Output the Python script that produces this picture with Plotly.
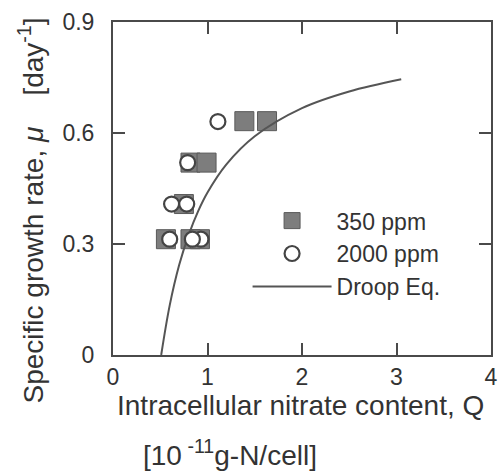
import plotly.graph_objects as go

# 350 ppm (filled squares)
q_350 = [0.56, 0.82, 0.92, 0.75, 0.82, 0.99, 1.39, 1.63]
mu_350 = [0.313, 0.313, 0.313, 0.408, 0.52, 0.52, 0.632, 0.632]

# 2000 ppm (open circles)
q_2000 = [0.60, 0.93, 0.84, 0.62, 0.78, 0.79, 1.11]
mu_2000 = [0.313, 0.313, 0.313, 0.408, 0.408, 0.52, 0.631]

# Droop equation curve
q_droop = [0.51, 0.60, 0.70, 0.80, 0.90, 1.00, 1.20, 1.50, 2.00, 2.50, 3.05]
mu_droop = [0.0, 0.134, 0.243, 0.324, 0.388, 0.439, 0.515, 0.591, 0.667, 0.712, 0.745]

x_ticks = [0, 1, 2, 3, 4]
y_ticks = [0, 0.3, 0.6, 0.9]
y_tick_labels = ["0", "0.3", "0.6", "0.9"]

FONT = "Liberation Sans, Arial, Helvetica, sans-serif"
INK = "#4a4a4a"
TXT = "#333333"

fig = go.Figure()
fig.add_trace(go.Scatter(
    x=q_350, y=mu_350, mode="markers", name="350 ppm", legendrank=1,
    marker=dict(symbol="square", size=19, color="#7d7d7d",
                line=dict(color="#5a5a5a", width=1)),
))
fig.add_trace(go.Scatter(
    x=q_droop, y=mu_droop, mode="lines", name="Droop Eq.", legendrank=3,
    line=dict(color="#555555", width=2, shape="spline"),
))
fig.add_trace(go.Scatter(
    x=q_2000, y=mu_2000, mode="markers", name="2000 ppm", legendrank=2,
    marker=dict(symbol="circle", size=15, color="white",
                line=dict(color="#444444", width=2.2)),
))

axis_common = dict(
    showline=True, linecolor=INK, linewidth=2, mirror="ticks",
    ticks="inside", ticklen=12, tickwidth=2, tickcolor=INK,
    showgrid=False, zeroline=False,
    tickfont=dict(family=FONT, size=23, color=TXT),
)

fig.update_layout(
    width=504, height=476,
    margin=dict(l=113, r=6, t=22, b=121),
    plot_bgcolor="white", paper_bgcolor="white",
    font=dict(family=FONT, color=TXT),
    xaxis=dict(range=[0, 4], tickvals=x_ticks, **axis_common),
    yaxis=dict(range=[0, 0.9], tickvals=y_ticks, ticktext=y_tick_labels,
               ticklabelstandoff=12, **axis_common),
    showlegend=True,
    legend=dict(x=0.356, y=0.468, xanchor="left", yanchor="top",
                bgcolor="rgba(0,0,0,0)", itemwidth=79,
                font=dict(family=FONT, size=23, color=TXT),
                tracegroupgap=0),
    annotations=[
        dict(text="Intracellular nitrate content, Q", xref="paper", yref="paper",
             x=0.496, y=-0.153, xanchor="center", yanchor="middle",
             showarrow=False, font=dict(family=FONT, size=28, color=TXT)),
        dict(text="[10<sup> -11</sup>g-N/cell]", xref="paper", yref="paper",
             x=0.075, y=-0.295, xanchor="left", yanchor="middle",
             showarrow=False, font=dict(family=FONT, size=28, color=TXT)),
        dict(text="Specific growth rate, <i>μ</i>    [day<sup>-1</sup>]",
             xref="paper", yref="paper", x=-0.216, y=0.435,
             xanchor="center", yanchor="middle", textangle=-90,
             showarrow=False, font=dict(family=FONT, size=28, color=TXT)),
    ],
)

fig.write_html("out.html", config={"displayModeBar": False},
               post_script="document.body.style.margin='0';")
